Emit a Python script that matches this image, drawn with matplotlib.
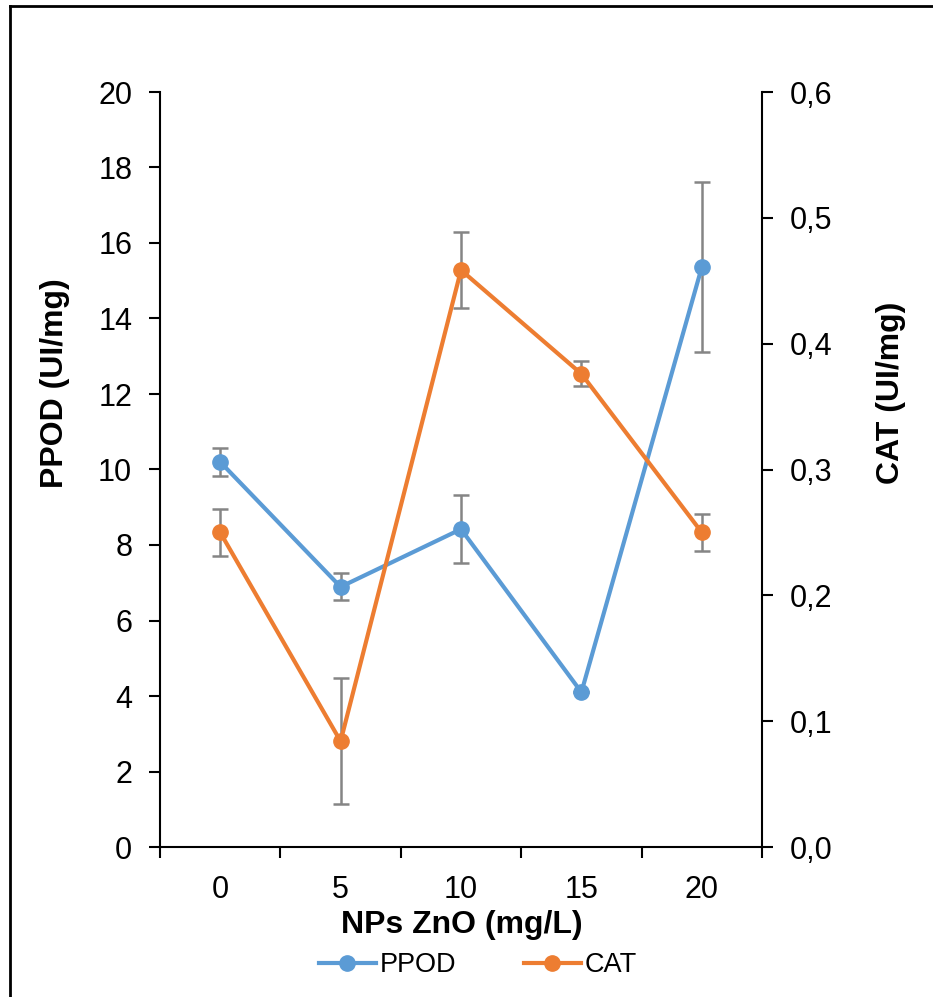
import numpy as np
import matplotlib.pyplot as plt
from matplotlib.lines import Line2D

plt.rcParams['font.family'] = ['Liberation Sans', 'DejaVu Sans']

doses = ['0', '5', '10', '15', '20']
ppod = [10.2, 6.89, 8.42, 4.1, 15.36]
ppod_err = [0.37, 0.36, 0.9, 0.0, 2.25]
cat = [0.250, 0.084, 0.4585, 0.376, 0.250]
cat_err = [0.019, 0.05, 0.03, 0.01, 0.015]

blue = '#5B9BD5'
orange = '#ED7D31'
grey = '#858585'

W, H = 933, 997
fig = plt.figure(figsize=(W/100, H/100), dpi=100)
ax = fig.add_axes([160/W, 1 - 847/H, (762-160)/W, (847-92)/H])
ax2 = ax.twinx()

x = np.arange(len(doses))

ax.errorbar(x, ppod, yerr=ppod_err, fmt='none', ecolor=grey, elinewidth=1.8, capsize=6, capthick=1.8, zorder=2)
ax.plot(x, ppod, color=blue, lw=3, marker='o', ms=11, zorder=3)
ax2.errorbar(x, cat, yerr=cat_err, fmt='none', ecolor=grey, elinewidth=1.8, capsize=6, capthick=1.8, zorder=2)
ax2.plot(x, cat, color=orange, lw=3, marker='o', ms=11, zorder=3)

ax.set_xlim(-0.5, 4.5)
ax.set_ylim(0, 20)
ax2.set_ylim(0, 0.6)
ax.set_yticks(range(0, 21, 2))
ax2.set_yticks(np.arange(0, 0.61, 0.1))
ax2.set_yticklabels([f'{v:.1f}'.replace('.', ',') for v in np.arange(0, 0.61, 0.1)])

ax.set_xticks(x)
ax.set_xticklabels(doses)
ax.set_xticks(np.arange(-0.5, 4.6, 1), minor=True)
ax.tick_params(axis='x', which='major', length=0, pad=20)
ax.tick_params(axis='x', which='minor', length=8, width=1.5, direction='out')

for a in (ax, ax2):
    a.spines['top'].set_visible(False)
    for s in a.spines.values():
        s.set_linewidth(1.5)
    a.tick_params(axis='y', length=8, width=1.5, labelsize=22, pad=12)
    a.tick_params(axis='x', labelsize=22)
ax.spines['right'].set_visible(False)
ax2.spines['left'].set_visible(False)
ax2.spines['bottom'].set_visible(False)

# axis titles placed like the Excel original
fig.text(55/W, 1 - 383/H, 'PPOD (UI/mg)', rotation=90, ha='center', va='center',
         fontsize=23, fontweight='bold')
fig.text(891/W, 1 - 393/H, 'CAT (UI/mg)', rotation=90, ha='center', va='center',
         fontsize=23, fontweight='bold')
fig.text(462/W, 1 - 925/H, 'NPs ZnO (mg/L)', ha='center', va='center',
         fontsize=23, fontweight='bold')

handles = [Line2D([], [], color=blue, lw=3, marker='o', ms=11),
           Line2D([], [], color=orange, lw=3, marker='o', ms=11)]
fig.legend(handles, ['PPOD', 'CAT'], loc='center', bbox_to_anchor=(478/W, 1 - 965/H),
           ncol=2, frameon=False, fontsize=19.5, handlelength=2.1, handletextpad=0.15,
           columnspacing=2.5, borderpad=0, borderaxespad=0)

# outer frame of the chart area
fig.add_artist(Line2D([10/W, 10/W], [0, 1 - 6/H], color='black', lw=2, transform=fig.transFigure))
fig.add_artist(Line2D([10/W, 1], [1 - 6/H, 1 - 6/H], color='black', lw=2, transform=fig.transFigure))

fig.savefig('out.png', dpi=100)
